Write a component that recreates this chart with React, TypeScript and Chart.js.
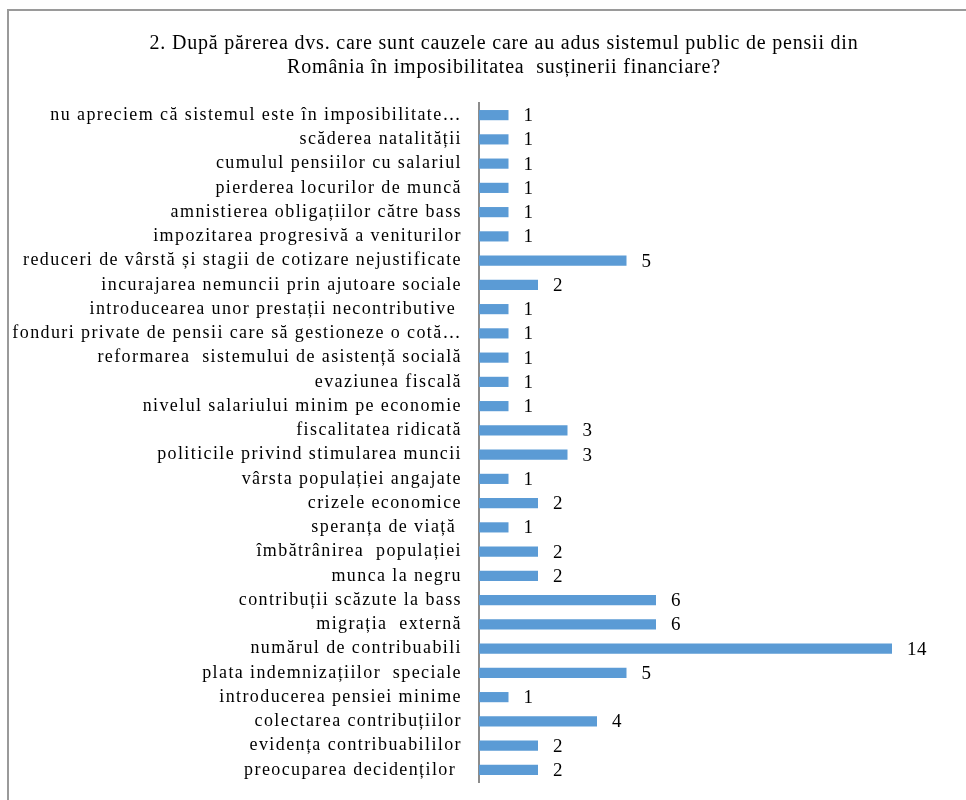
import React, { useEffect, useRef } from "react";
import { Chart, registerables } from "chart.js";

Chart.register(...registerables);

const titleLines = [
  "2. După părerea dvs. care sunt cauzele care au adus sistemul public de pensii din",
  "România în imposibilitatea  susținerii financiare?",
];

const categories = [
  "nu apreciem că sistemul este în imposibilitate…",
  "scăderea natalității",
  "cumulul pensiilor cu salariul",
  "pierderea locurilor de muncă",
  "amnistierea obligațiilor către bass",
  "impozitarea progresivă a veniturilor",
  "reduceri de vârstă și stagii de cotizare nejustificate",
  "incurajarea nemuncii prin ajutoare sociale",
  "introducearea unor prestații necontributive ",
  "fonduri private de pensii care să gestioneze o cotă…",
  "reformarea  sistemului de asistență socială",
  "evaziunea fiscală",
  "nivelul salariului minim pe economie",
  "fiscalitatea ridicată",
  "politicile privind stimularea muncii",
  "vârsta populației angajate",
  "crizele economice",
  "speranța de viață ",
  "îmbătrânirea  populației",
  "munca la negru",
  "contribuții scăzute la bass",
  "migrația  externă",
  "numărul de contribuabili",
  "plata indemnizațiilor  speciale",
  "introducerea pensiei minime",
  "colectarea contribuțiilor",
  "evidența contribuabililor",
  "preocuparea decidenților ",
];

const values = [1, 1, 1, 1, 1, 1, 5, 2, 1, 1, 1, 1, 1, 3, 3, 1, 2, 1, 2, 2, 6, 6, 14, 5, 1, 4, 2, 2];

const xMax = 16;

const FONT = "'Liberation Serif', 'Times New Roman', serif";

const spacingPlugin = {
  id: "labelSpacing",
  beforeDraw(chart: any) {
    (chart.ctx as any).letterSpacing = "1.4px";
  },
  afterDraw(chart: any) {
    (chart.ctx as any).letterSpacing = "0px";
  },
};

const titlePlugin = {
  id: "customTitle",
  afterDraw(chart: any) {
    const ctx = chart.ctx;
    ctx.save();
    (ctx as any).letterSpacing = "0.8px";
    ctx.font = `20px ${FONT}`;
    ctx.fillStyle = "#000";
    ctx.textAlign = "center";
    ctx.textBaseline = "middle";
    const cx = 495;
    ctx.fillText(titleLines[0], cx, 33);
    ctx.fillText(titleLines[1], cx, 57);
    ctx.restore();
  },
};

const dataLabelPlugin = {
  id: "dataLabels",
  afterDatasetsDraw(chart: any) {
    const ctx = chart.ctx;
    const meta = chart.getDatasetMeta(0);
    ctx.save();
    (ctx as any).letterSpacing = "0.5px";
    ctx.font = `19px ${FONT}`;
    ctx.fillStyle = "#000";
    ctx.textAlign = "left";
    ctx.textBaseline = "middle";
    meta.data.forEach((bar: any, i: number) => {
      ctx.fillText(String(values[i]), bar.x + 15, bar.y + 1);
    });
    ctx.restore();
  },
};

export default function App() {
  const ref = useRef<HTMLCanvasElement | null>(null);

  useEffect(() => {
    if (!ref.current) return;
    const chart = new Chart(ref.current, {
      type: "bar",
      data: {
        labels: categories,
        datasets: [
          {
            data: values,
            backgroundColor: "#5B9BD5",
            borderWidth: 0,
            barPercentage: 0.42,
            categoryPercentage: 1,
          },
        ],
      },
      options: {
        indexAxis: "y",
        animation: false,
        responsive: false,
        maintainAspectRatio: false,
        layout: { padding: { left: 0, right: 46, top: 92, bottom: 29 } },
        plugins: {
          legend: { display: false },
          tooltip: { enabled: false },
          title: { display: false },
        },
        scales: {
          x: {
            display: false,
            min: 0,
            max: xMax,
          },
          y: {
            grid: { display: false, drawTicks: false },
            border: { display: true, color: "#8c8c8c", width: 2 },
            ticks: {
              autoSkip: false,
              color: "#000",
              padding: 17,
              font: { family: FONT, size: 18 },
            },
            afterFit(scale: any) {
              scale.width = 470;
            },
          },
        },
      },
      plugins: [spacingPlugin, dataLabelPlugin, titlePlugin],
    });
    return () => chart.destroy();
  }, []);

  return (
    <div style={{ position: "fixed", left: 0, top: 0, width: 966, height: 800, overflow: "hidden", background: "#fff" }}>
      <div
        style={{
          position: "absolute",
          left: 7,
          top: 9,
          width: 1000,
          height: 900,
          border: "2px solid #9a9a9a",
          boxSizing: "border-box",
        }}
      >
        <canvas ref={ref} width={988} height={800} style={{ display: "block", width: 988, height: 800 }} />
      </div>
    </div>
  );
}
